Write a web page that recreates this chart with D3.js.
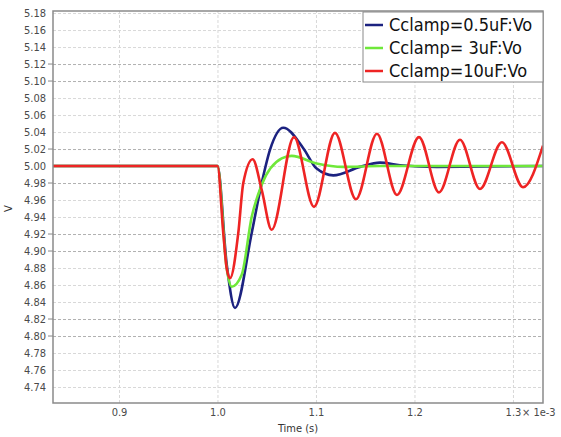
<!DOCTYPE html>
<html lang="en">
<head>
<meta charset="UTF-8">
<title>Cclamp Vo</title>
<style>
    body { margin: 0; background: #fff; }
    .axis text { font-family: "DejaVu Sans Condensed", "DejaVu Sans", sans-serif; font-size: 11px; fill: #4a4a4a; }
    .axis path, .axis line { stroke: none; }
    .grid line { stroke: #d8d8d8; stroke-width: 1; stroke-dasharray: 3,2; }
    .grid line.strong { stroke: #b0b0b0; }
    .grid path { stroke: none; }
    .trace { fill: none; stroke-width: 2.6; stroke-linejoin: round; }
    .legend text { font-family: "DejaVu Sans Condensed", "DejaVu Sans", sans-serif; font-size: 18px; fill: #111; }
</style>
</head>
<body>
<div class="g-chart-container"></div>
<script src="https://d3js.org/d3.v7.min.js"></script>
<script>
// tick values (time in ms, voltage in V)
var xTicks = [0.9, 1.0, 1.1, 1.2, 1.3];
var yTicks = [4.74, 4.76, 4.78, 4.80, 4.82, 4.84, 4.86, 4.88, 4.90, 4.92, 4.94, 4.96, 4.98,
              5.00, 5.02, 5.04, 5.06, 5.08, 5.10, 5.12, 5.14, 5.16, 5.18];
var yStrong = [5.12, 5.10, 5.02, 4.98, 4.92, 4.90, 4.82, 4.80];

var seriesNames = ["Cclamp=0.5uF:Vo", "Cclamp= 3uF:Vo", "Cclamp=10uF:Vo"];
var seriesColors = ["#1c2280", "#6fe83a", "#ee2424"];

// Cclamp = 0.5uF  [t (ms), V]
var blueT = [0.833, 1.000, 1.0093, 1.0178, 1.0347, 1.0449, 1.0533, 1.0668, 1.0871, 1.1007,
             1.1176, 1.1447, 1.1650, 1.1853, 1.2228, 1.3305];
var blueV = [5.000, 5.000, 4.885, 4.833, 4.921, 4.980, 5.019, 5.045, 5.021, 4.997,
             4.989, 4.999, 5.004, 5.001, 4.999, 5.000];

// Cclamp = 3uF
var greenT = [0.833, 1.000, 1.0093, 1.0144, 1.0246, 1.0347, 1.0449, 1.0652, 1.0753, 1.1007,
              1.1277, 1.1650, 1.3305];
var greenV = [5.000, 5.000, 4.880, 4.858, 4.872, 4.940, 4.978, 5.009, 5.012, 5.003,
              4.999, 5.000, 5.000];

// Cclamp = 10uF
var redT = [0.833, 1.000, 1.0059, 1.0093, 1.0127, 1.0211, 1.0262, 1.0357, 1.0449, 1.0550,
            1.0777, 1.0980, 1.1193, 1.1406, 1.1619, 1.1822, 1.2046, 1.2249, 1.2462, 1.2665,
            1.2888, 1.3102, 1.3305];
var redV = [5.000, 5.000, 4.921, 4.880, 4.868, 4.921, 4.980, 5.008, 4.972, 4.925,
            5.034, 4.952, 5.039, 4.961, 5.038, 4.966, 5.034, 4.969, 5.031, 4.973,
            5.028, 4.975, 5.024];

var margin = {top: 11, right: 18, bottom: 34, left: 53};
var W = 561, H = 437,
    w = W - margin.left - margin.right,
    h = H - margin.top - margin.bottom;

var svg = d3.select(".g-chart-container").append("svg")
    .attr("width", W)
    .attr("height", H)
    .append("g")
    .attr("transform", "translate(" + margin.left + "," + margin.top + ")");

var xscale = d3.scaleLinear()
    .domain([0.833, 1.3305])
    .range([0, w]);

var yscale = d3.scaleLinear()
    .domain([4.7212, 5.1824])
    .range([h, 0]);

// grid
svg.append("g")
    .attr("class", "grid")
    .call(d3.axisLeft(yscale).tickValues(yTicks).tickSize(-w).tickFormat(""))
    .selectAll(".tick line")
    .classed("strong", function(d) { return yStrong.some(function(s) { return Math.abs(s - d) < 1e-6; }); });

svg.append("g")
    .attr("class", "grid")
    .attr("transform", "translate(0," + h + ")")
    .call(d3.axisBottom(xscale).tickValues(xTicks).tickSize(-h).tickFormat(""));

// small tick marks on the strong values
svg.append("g").selectAll("line")
    .data(yStrong)
    .enter().append("line")
    .attr("x1", -5).attr("x2", 0)
    .attr("y1", function(d) { return yscale(d); })
    .attr("y2", function(d) { return yscale(d); })
    .attr("stroke", "#888");

// axes labels
svg.append("g")
    .attr("class", "axis")
    .call(d3.axisLeft(yscale).tickValues(yTicks).tickSize(0).tickPadding(7).tickFormat(d3.format(".2f")));

svg.append("g")
    .attr("class", "axis")
    .attr("transform", "translate(0," + h + ")")
    .call(d3.axisBottom(xscale).tickValues(xTicks).tickSize(0).tickPadding(5).tickFormat(d3.format(".1f")));

svg.append("text")
    .attr("class", "axis")
    .attr("x", xscale(1.3) + 9)
    .attr("y", h + 5)
    .attr("dy", "0.71em")
    .style("font-family", "DejaVu Sans Condensed, DejaVu Sans, sans-serif")
    .style("font-size", "11px")
    .style("fill", "#4a4a4a")
    .text("\u00d7 1e-3");

svg.append("text")
    .attr("x", w / 2)
    .attr("y", h + 29)
    .attr("text-anchor", "middle")
    .style("font-family", "DejaVu Sans Condensed, DejaVu Sans, sans-serif")
    .style("font-size", "11px")
    .style("fill", "#333")
    .text("Time (s)");

svg.append("text")
    .attr("transform", "translate(" + (-41) + "," + (yscale(4.95)) + ") rotate(-90)")
    .attr("text-anchor", "middle")
    .style("font-family", "DejaVu Sans Condensed, DejaVu Sans, sans-serif")
    .style("font-size", "11px")
    .style("fill", "#333")
    .text("V");

// traces
var lineGenerator = d3.line()
    .x(function(d) { return xscale(d[0]); })
    .y(function(d) { return yscale(d[1]); })
    .curve(d3.curveMonotoneX);

var traces = [d3.zip(blueT, blueV), d3.zip(greenT, greenV), d3.zip(redT, redV)];

svg.append("defs").append("clipPath").attr("id", "clip")
    .append("rect").attr("width", w).attr("height", h);

svg.append("g")
    .attr("clip-path", "url(#clip)")
    .selectAll(".trace")
    .data(traces)
    .enter()
    .append("path")
    .attr("class", "trace")
    .attr("stroke", function(d, i) { return seriesColors[i]; })
    .attr("d", lineGenerator);

// frame
svg.append("rect")
    .attr("width", w)
    .attr("height", h)
    .attr("fill", "none")
    .attr("stroke", "#8a8a8a")
    .attr("stroke-width", 1.5);

// legend
var lg = svg.append("g")
    .attr("class", "legend")
    .attr("transform", "translate(" + (w - 180) + ",1)");

lg.append("rect")
    .attr("width", 180)
    .attr("height", 70)
    .attr("fill", "#fff")
    .attr("stroke", "#8a8a8a")
    .attr("stroke-width", 1);

var item = lg.selectAll(".item")
    .data(seriesNames)
    .enter().append("g")
    .attr("transform", function(d, i) { return "translate(0," + (13 + i * 23) + ")"; });

item.append("line")
    .attr("x1", 2).attr("x2", 20)
    .attr("stroke", function(d, i) { return seriesColors[i]; })
    .attr("stroke-width", 2.5);

item.append("text")
    .attr("x", 26)
    .attr("dy", "0.35em")
    .text(function(d) { return d; });
</script>
</body>
</html>
